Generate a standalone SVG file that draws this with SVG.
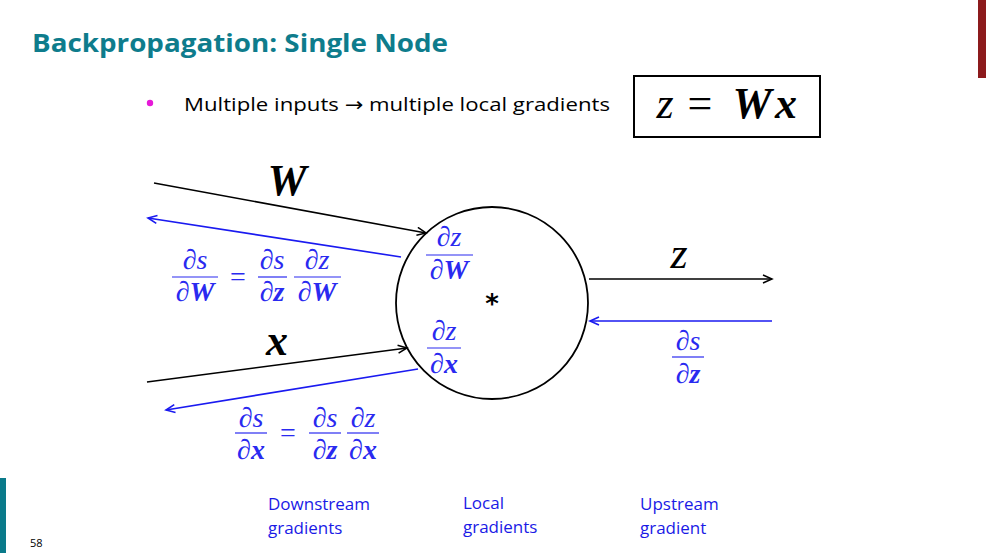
<svg xmlns="http://www.w3.org/2000/svg" width="986" height="553" viewBox="0 0 986 553">
<defs>
<style>
.title{font-family:"Open Sans","Liberation Sans",sans-serif;font-weight:bold;font-size:25px;fill:#0E7C8C}
.body{font-family:"Open Sans","Liberation Sans",sans-serif;font-size:19px;fill:#000}
.lab{font-family:"Open Sans","Liberation Sans",sans-serif;font-size:17px;fill:#1A1AE6}
.m{font-family:"Liberation Serif","DejaVu Serif",serif;font-style:italic;text-anchor:middle}
.mb{font-weight:bold}
.blue{fill:#2A2AF0}
.blk{fill:#000}
.fr{font-size:28px}
.big{font-size:44px}
.bar{stroke:#2A2AF0;stroke-width:1.2}
.fwd{stroke:#000;stroke-width:1.5;fill:none;marker-end:url(#ak)}
.bwd{stroke:#1A1AF0;stroke-width:1.6;fill:none;marker-end:url(#ab)}
</style>
<marker id="ak" markerWidth="12" markerHeight="12" refX="10" refY="5" orient="auto" markerUnits="userSpaceOnUse"><path d="M1,1 L10,5 L1,9" fill="none" stroke="#000" stroke-width="1.5"/></marker>
<marker id="ab" markerWidth="12" markerHeight="12" refX="10" refY="5" orient="auto" markerUnits="userSpaceOnUse"><path d="M1,1 L10,5 L1,9" fill="none" stroke="#1A1AF0" stroke-width="1.6"/></marker>
</defs>
<rect width="986" height="553" fill="#fff"/>
<rect x="978" y="0" width="8" height="78" fill="#8C1A1C"/>
<rect x="0" y="478" width="6" height="75" fill="#0A7A8A"/>
<text class="title" x="32" y="52" textLength="416" lengthAdjust="spacingAndGlyphs">Backpropagation: Single Node</text>
<circle cx="150" cy="103" r="3.2" fill="#E619D8"/>
<text class="body" x="184" y="111" textLength="426" lengthAdjust="spacingAndGlyphs">Multiple inputs <tspan style="font-family:'DejaVu Sans',sans-serif;font-size:19px">→</tspan> multiple local gradients</text>
<g id="eq-box">
<rect x="634" y="76" width="186" height="61" fill="none" stroke="#000" stroke-width="2"/>
<text class="m big" x="665" y="118">z</text>
<text class="m big" x="700" y="118" style="font-style:normal">=</text>
<text class="m big mb" x="752" y="118">W</text>
<text class="m big mb" x="786" y="118">x</text>
</g>
<g id="connectors">
<line class="fwd" x1="154" y1="183" x2="426" y2="233"/>
<line class="bwd" x1="401" y1="257" x2="148" y2="218"/>
<line class="fwd" x1="147" y1="382" x2="407" y2="348"/>
<line class="bwd" x1="418" y1="369" x2="166" y2="410"/>
<line class="fwd" x1="589" y1="279" x2="772" y2="279"/>
<line class="bwd" x1="772" y1="321" x2="590" y2="321"/>
</g>
<g id="node">
<circle cx="492" cy="303" r="96" fill="none" stroke="#000" stroke-width="1.8"/>
<text x="492" y="313" text-anchor="middle" style="font-family:'DejaVu Sans',sans-serif;font-size:26px;font-weight:bold">*</text>
<text class="m fr blue" x="449" y="246">∂z</text><line class="bar" x1="426" y1="255" x2="473" y2="255"/><text class="m fr blue" x="449" y="279">∂<tspan class="mb">W</tspan></text>
<text class="m fr blue" x="444" y="340">∂z</text><line class="bar" x1="427" y1="348" x2="461" y2="348"/><text class="m fr blue" x="444" y="373">∂<tspan class="mb">x</tspan></text>
</g>
<g id="label-W"><text class="m big mb blk" x="287" y="195">W</text></g>
<g id="label-x"><text class="m big mb blk" x="277" y="355">x</text></g>
<g id="label-z"><text class="m big blk" x="679" y="268">z</text></g>
<g id="grad-W">
<text class="m fr blue" x="195" y="269">∂s</text><line class="bar" x1="172" y1="277" x2="218" y2="277"/><text class="m fr blue" x="195" y="301">∂<tspan class="mb">W</tspan></text>
<text class="m fr blue" x="238" y="286" style="font-style:normal">=</text>
<text class="m fr blue" x="272" y="269">∂s</text><line class="bar" x1="258" y1="277" x2="287" y2="277"/><text class="m fr blue" x="272" y="301">∂<tspan class="mb">z</tspan></text>
<text class="m fr blue" x="317" y="269">∂z</text><line class="bar" x1="294" y1="277" x2="341" y2="277"/><text class="m fr blue" x="317" y="301">∂<tspan class="mb">W</tspan></text>
</g>
<g id="grad-x">
<text class="m fr blue" x="251" y="427">∂s</text><line class="bar" x1="235" y1="433" x2="267" y2="433"/><text class="m fr blue" x="251" y="459">∂<tspan class="mb">x</tspan></text>
<text class="m fr blue" x="288" y="442" style="font-style:normal">=</text>
<text class="m fr blue" x="325" y="427">∂s</text><line class="bar" x1="309" y1="433" x2="341" y2="433"/><text class="m fr blue" x="325" y="459">∂<tspan class="mb">z</tspan></text>
<text class="m fr blue" x="363" y="427">∂z</text><line class="bar" x1="347" y1="433" x2="379" y2="433"/><text class="m fr blue" x="363" y="459">∂<tspan class="mb">x</tspan></text>
</g>
<g id="grad-z">
<text class="m fr blue" x="688" y="350">∂s</text><line class="bar" x1="672" y1="357" x2="704" y2="357"/><text class="m fr blue" x="688" y="383">∂<tspan class="mb">z</tspan></text>
</g>
<g id="labels">
<text class="lab" x="268" y="510">Downstream</text><text class="lab" x="268" y="534">gradients</text>
<text class="lab" x="463" y="509">Local</text><text class="lab" x="463" y="533">gradients</text>
<text class="lab" x="640" y="510">Upstream</text><text class="lab" x="640" y="534">gradient</text>
</g>
<text x="30" y="547" style="font-family:'Open Sans','Liberation Sans',sans-serif;font-size:11px;fill:#000">58</text>
</svg>
